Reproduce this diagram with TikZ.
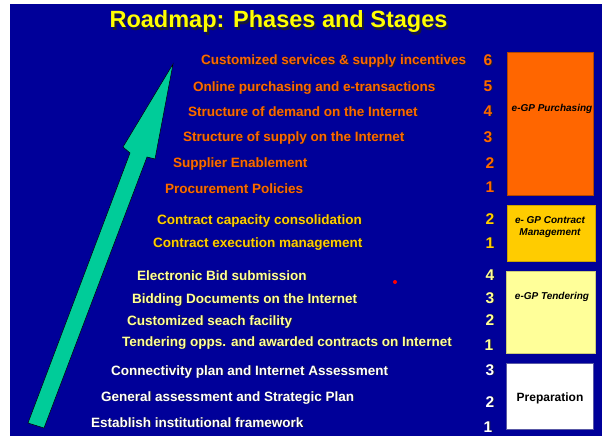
\documentclass[tikz,border=0pt]{standalone}
\usepackage{fontspec}
\setmainfont{Liberation Sans}
\definecolor{bgblue}{HTML}{000099}
\definecolor{orng}{HTML}{FF6600}
\definecolor{ylw}{HTML}{FFCC00}
\definecolor{lylw}{HTML}{FFFF99}
\definecolor{ttl}{HTML}{FFFF00}
\definecolor{arrowgreen}{HTML}{00CC99}
\definecolor{shad}{HTML}{1A1A33}
% text with a drop shadow: {colour}{shadow offset}{text}
\newcommand{\shtx}[3]{\rlap{\kern#2pt\raisebox{-#2pt}{\color{shad}#3}}{\color{#1}#3}}
\newcommand{\stxt}[6]{%
  \node[#5] (#1) at (#2,#3) {\shtx{#4}{0.9}{#6}};}
\begin{document}
\begin{tikzpicture}[x=1pt,y=-1pt,
  rowtext/.style={font=\bfseries\fontsize{13.5}{16}\selectfont, inner sep=0pt, anchor=base west},
  numtext/.style={font=\bfseries\fontsize{15.5}{18}\selectfont, inner sep=0pt, anchor=base},
  boxlbl/.style={font=\bfseries\itshape\fontsize{10}{11.5}\selectfont, inner sep=0pt, anchor=base, text=black, align=center},
  phasebox/.style={line width=0.6pt}]
\useasboundingbox (0,0) rectangle (602,436);
\fill[white] (0,0) rectangle (602,436);
\fill[bgblue] (10,4) rectangle (602,436);

% title
\node[font=\bfseries\fontsize{23.5}{28}\selectfont, inner sep=0pt, anchor=base] (title) at (278.5,28) {\shtx{ttl}{2}{Roadmap: Phases and Stages}};

% arrow
\fill[arrowgreen, draw=black, line width=0.5pt, line join=miter]
  (173,64) -- (155,159) -- (147,157) -- (44,428) -- (28,423) -- (130,153) -- (123,147) -- cycle;

% red dot
\fill[red] (395,282) circle (2);

% boxes
\filldraw[phasebox, fill=orng, draw=orng!70!black] (507,52) rectangle (593,195);
\filldraw[phasebox, fill=ylw, draw=ylw!80!black] (507,205) rectangle (595,261);
\filldraw[phasebox, fill=lylw, draw=lylw!80!black] (506,271) rectangle (595,353);
\filldraw[phasebox, fill=white, draw=blue!30!gray] (506,363) rectangle (593,429);

\node[boxlbl] (lblpur) at (552,111) {e-GP Purchasing};
\node[boxlbl] (lblcon) at (550,235) {e- GP Contract\\Management};
\node[boxlbl] (lblten) at (552,299) {e-GP Tendering};
\node[boxlbl, font=\bfseries\fontsize{12}{14}\selectfont] (lblprep) at (550,401) {Preparation};

% rows
\stxt{r1}{201}{65}{orng}{rowtext}{Customized services \& supply incentives}
\stxt{r2}{193}{91}{orng}{rowtext}{Online purchasing and e-transactions}
\stxt{r3}{188}{116}{orng}{rowtext}{Structure of demand on the Internet}
\stxt{r4}{183}{141}{orng}{rowtext}{Structure of supply on the Internet}
\stxt{r5}{173}{167}{orng}{rowtext}{Supplier Enablement}
\stxt{r6}{165}{193}{orng}{rowtext}{Procurement Policies}
\stxt{r7}{157}{224}{ylw}{rowtext}{Contract capacity consolidation}
\stxt{r8}{153}{247}{ylw}{rowtext}{Contract execution management}
\stxt{r9}{137}{280}{lylw}{rowtext}{Electronic Bid submission}
\stxt{r10}{132}{303}{lylw}{rowtext}{Bidding Documents on the Internet}
\stxt{r11}{127}{325}{lylw}{rowtext}{Customized seach facility}
\stxt{r12}{122}{346}{lylw}{rowtext}{Tendering opps. and awarded contracts on Internet}
\stxt{r13}{111}{375}{white}{rowtext}{Connectivity plan and Internet Assessment}
\stxt{r14}{101}{401}{white}{rowtext}{General assessment and Strategic Plan}
\stxt{r15}{91}{427}{white}{rowtext}{Establish institutional framework}

% numbers
\stxt{n1}{488}{66}{orng}{numtext}{6}
\stxt{n2}{488}{91}{orng}{numtext}{5}
\stxt{n3}{488}{116}{orng}{numtext}{4}
\stxt{n4}{488}{142}{orng}{numtext}{3}
\stxt{n5}{490}{168}{orng}{numtext}{2}
\stxt{n6}{490}{192}{orng}{numtext}{1}
\stxt{n7}{490}{224}{ylw}{numtext}{2}
\stxt{n8}{490}{248}{ylw}{numtext}{1}
\stxt{n9}{490}{280}{lylw}{numtext}{4}
\stxt{n10}{490}{303}{lylw}{numtext}{3}
\stxt{n11}{490}{325}{lylw}{numtext}{2}
\stxt{n12}{489}{350}{lylw}{numtext}{1}
\stxt{n13}{490}{375}{white}{numtext}{3}
\stxt{n14}{490}{407}{white}{numtext}{2}
\stxt{n15}{488}{432}{white}{numtext}{1}
\end{tikzpicture}
\end{document}
